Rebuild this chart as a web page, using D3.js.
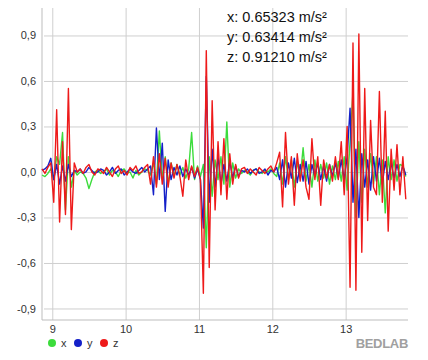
<!DOCTYPE html>
<html><head><meta charset="utf-8">
<script src="https://cdn.jsdelivr.net/npm/d3@7"></script>
<style>html,body{margin:0;padding:0;background:#fff;}svg{display:block;}</style>
</head><body>
<svg id="c" width="428" height="360"></svg>
<script>
const t0 = 8.86, dt = 0.04;
const seriesNames = ["x", "y", "z"];
const seriesColors = ["#3cdc3c", "#1420c8", "#ee1a1a"];
const xTicks = [9, 10, 11, 12, 13];
const yTicks = [-0.9, -0.6, -0.3, 0.0, 0.3, 0.6, 0.9];
const yTickLabels = ["-0,9", "-0,6", "-0,3", "0,0", "0,3", "0,6", "0,9"];
const readouts = ["x: 0.65323 m/s²", "y: 0.63414 m/s²", "z: 0.91210 m/s²"];
const brand = "BEDLAB";

const xVals = [-0.02,-0.03,-0.01,0.02,-0.05,0.1,0.05,0.26,-0.25,0.1,
-0.1,0.01,-0.02,0.0,-0.01,-0.04,-0.11,-0.05,0.0,0.01,
-0.01,0.0,0.02,-0.02,0.01,0.0,-0.03,0.01,0.02,-0.01,
0.0,-0.04,0.01,-0.02,0.0,0.02,0.01,-0.02,0.06,-0.08,
0.27,-0.05,0.1,-0.08,0.06,-0.03,0.05,-0.02,0.03,-0.04,
0.02,0.26,-0.05,0.04,-0.03,0.05,-0.5,0.1,-0.16,0.08,
-0.05,0.1,-0.08,0.33,-0.1,0.06,-0.04,0.02,-0.01,0.01,
0.0,-0.02,0.01,0.02,0.0,-0.01,0.01,0.0,0.02,-0.01,
-0.03,0.06,-0.08,0.1,-0.05,0.08,-0.1,0.07,-0.04,0.16,
-0.06,0.05,-0.1,0.08,-0.06,0.05,-0.04,0.06,-0.08,0.04,
-0.05,0.07,-0.06,0.1,-0.12,0.2,0.53,-0.3,0.2,-0.2,
0.15,-0.1,0.12,-0.08,0.1,-0.15,0.08,-0.27,0.1,-0.05,
0.08,-0.06,0.05,0.04,-0.03];

const yVals = [0.01,0.02,0.04,0.09,-0.05,0.05,-0.08,0.04,-0.06,0.05,
-0.03,0.01,0.0,0.02,-0.01,0.0,0.03,0.01,-0.01,0.0,
0.02,0.01,-0.02,0.0,0.03,-0.01,0.01,0.02,-0.02,0.0,
0.02,0.0,-0.01,0.01,0.03,0.0,0.02,0.04,-0.15,0.29,
-0.05,0.19,-0.26,0.08,-0.05,0.03,-0.02,0.04,-0.03,0.02,
-0.02,0.03,-0.04,0.02,-0.05,-0.37,0.63,-0.2,0.15,-0.1,
0.1,-0.08,0.05,-0.06,0.07,-0.04,0.04,-0.03,0.01,0.0,
0.02,-0.01,0.01,0.02,-0.01,0.0,0.02,-0.02,0.01,0.0,
0.03,-0.05,0.08,-0.1,0.06,-0.04,0.09,-0.07,0.05,-0.06,
0.07,-0.08,0.05,-0.03,0.06,-0.05,0.04,-0.06,0.05,-0.03,
0.06,-0.04,0.08,-0.05,0.1,0.42,-0.2,0.15,-0.3,0.12,
-0.1,0.08,-0.12,0.1,-0.06,0.09,-0.08,0.07,-0.05,0.06,
-0.04,0.05,-0.03,0.04,-0.02];

const zVals = [0.02,-0.01,0.03,0.06,-0.2,0.41,-0.33,0.2,-0.28,0.55,
-0.38,0.06,0.0,0.02,-0.01,0.03,0.05,0.0,-0.02,0.02,
0.01,-0.01,0.03,0.0,-0.03,0.02,0.04,-0.01,0.01,-0.02,
0.03,0.01,0.04,-0.01,0.0,0.03,0.05,-0.08,0.1,-0.1,
0.12,-0.08,0.09,-0.1,0.06,-0.04,0.05,-0.03,-0.16,0.08,
-0.05,0.04,-0.03,0.03,-0.05,-0.8,0.8,-0.63,0.47,-0.25,
0.2,-0.15,0.22,-0.18,0.12,-0.08,0.05,-0.04,0.02,0.03,
-0.01,0.02,0.0,-0.02,0.03,0.01,-0.01,0.02,0.04,0.0,
0.06,0.13,-0.23,0.26,-0.08,0.1,-0.22,0.12,-0.06,0.08,
-0.1,-0.18,0.22,-0.05,0.1,-0.22,0.08,-0.04,0.05,-0.06,
0.1,-0.05,0.2,-0.15,0.3,-0.76,0.85,-0.78,0.91,-0.53,
0.55,-0.32,0.34,-0.1,-0.15,0.53,-0.2,0.4,-0.39,0.15,
-0.12,0.18,-0.15,0.1,-0.18];

const series = [xVals, yVals, zVals];

const svg = d3.select("#c");
const L = 42, R = 408, T = 8, B = 320;
const x = d3.scaleLinear().domain([8.86, 13.85]).range([L, R]);
const y = d3.scaleLinear().domain([-0.976, 1.081]).range([B, T]);
const font = "'Liberation Sans', Arial, sans-serif";

// grid
const gy = svg.append("g").attr("transform", `translate(${L},0)`)
  .call(d3.axisLeft(y).tickValues(yTicks).tickSize(-(R - L)).tickFormat((d, i) => yTickLabels[i]));
gy.select(".domain").remove();
gy.selectAll(".tick line").attr("stroke", "#cfcfcf").attr("x1", 2);
gy.selectAll(".tick text").attr("font-family", font).attr("font-size", 11).attr("fill", "#333").attr("x", -6);

const gx = svg.append("g").attr("transform", `translate(0,${B})`)
  .call(d3.axisBottom(x).tickValues(xTicks).tickSize(-(B - T)).tickFormat(d3.format("d")));
gx.select(".domain").remove();
gx.selectAll(".tick line").attr("stroke", "#cfcfcf");
gx.selectAll(".tick text").attr("font-family", font).attr("font-size", 11).attr("fill", "#333").attr("y", 5);

// axis lines
svg.append("line").attr("x1", L).attr("x2", L).attr("y1", T).attr("y2", B).attr("stroke", "#bdbdbd");
svg.append("line").attr("x1", L).attr("x2", R).attr("y1", B).attr("y2", B).attr("stroke", "#bdbdbd");

// lines
const line = d3.line().x((d, i) => x(t0 + i * dt)).y(d => y(d));
series.forEach((s, k) => {
  svg.append("path").datum(s).attr("d", line).attr("fill", "none")
    .attr("stroke", seriesColors[k]).attr("stroke-width", 1.4).attr("stroke-linejoin", "round");
});

// readouts
readouts.forEach((t, i) => {
  svg.append("text").attr("x", 227).attr("y", 22 + i * 20).attr("font-family", font)
    .attr("font-size", 14.5).attr("fill", "#111").text(t);
});

// legend
const lg = svg.append("g").attr("transform", "translate(52,343)");
seriesNames.forEach((n, i) => {
  lg.append("circle").attr("cx", i * 26).attr("cy", 0).attr("r", 4).attr("fill", seriesColors[i]);
  lg.append("text").attr("x", i * 26 + 9).attr("y", 4).attr("font-family", font).attr("font-size", 11).attr("fill", "#333").text(n);
});

// brand
svg.append("text").attr("x", 408).attr("y", 348).attr("text-anchor", "end")
  .attr("font-family", "'Liberation Sans Narrow', 'Liberation Sans', sans-serif").attr("font-weight", "bold")
  .attr("font-size", 13).attr("fill", "#a0a0a0").attr("letter-spacing", -0.3).text(brand);
</script>
</body></html>
